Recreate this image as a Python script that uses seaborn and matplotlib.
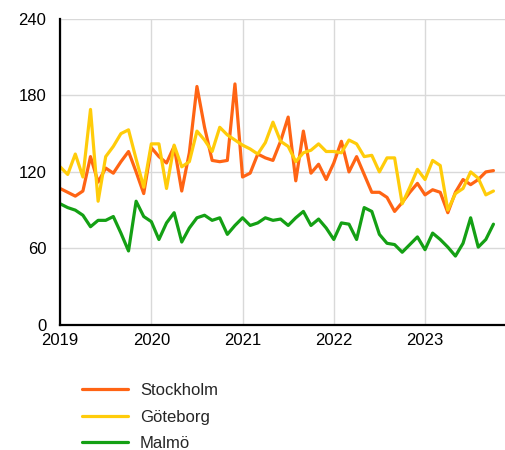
import numpy as np
import pandas as pd
import matplotlib
matplotlib.use("Agg")
import matplotlib.pyplot as plt
import seaborn as sns

# Monthly index values, Jan 2019 - Oct 2023
start_year = 2019
stockholm = [107, 104, 101, 105, 132, 112, 123, 119, 128, 136, 120, 103,
             139, 132, 127, 140, 105, 135, 187, 155, 129, 128, 129, 189,
             116, 119, 134, 131, 129, 144, 163, 113, 152, 119, 126, 114,
             127, 144, 120, 132, 118, 104, 104, 100, 89, 96, 104, 111,
             102, 106, 104, 88, 104, 114, 110, 114, 120, 121]
goteborg = [124, 118, 134, 116, 169, 97, 132, 140, 150, 153, 130, 108,
            142, 142, 107, 141, 124, 128, 152, 145, 136, 155, 149, 145,
            141, 138, 134, 143, 159, 144, 140, 128, 135, 137, 142, 136,
            136, 135, 145, 142, 132, 133, 120, 131, 131, 95, 108, 122,
            114, 129, 125, 90, 103, 107, 120, 115, 102, 105]
malmo = [95, 92, 90, 86, 77, 82, 82, 85, 72, 58, 97, 85,
         81, 67, 80, 88, 65, 76, 84, 86, 82, 84, 71, 78,
         84, 78, 80, 84, 82, 83, 78, 84, 89, 78, 83, 76,
         67, 80, 79, 67, 92, 89, 71, 64, 63, 57, 63, 69,
         59, 72, 67, 61, 54, 64, 84, 61, 67, 79]
city_names = ["Stockholm", "Göteborg", "Malmö"]
city_colors = ["#FF6414", "#FFCC0A", "#14A014"]
year_ticks = [2019, 2020, 2021, 2022, 2023]
value_ticks = [0, 60, 120, 180, 240]

months = np.arange(len(stockholm))
t = start_year + months / 12.0
df = pd.concat([
    pd.DataFrame({"t": t, "value": vals, "city": name})
    for name, vals in zip(city_names, [stockholm, goteborg, malmo])
])

sns.set_theme(style="white")
plt.rcParams["font.family"] = ["Liberation Sans", "DejaVu Sans"]

fig = plt.figure(figsize=(5.05, 4.5), dpi=100)
ax = fig.add_axes([0.119, 0.278, 0.881, 0.680])

sns.lineplot(data=df, x="t", y="value", hue="city", hue_order=city_names,
             palette=city_colors, linewidth=2.3, ax=ax, legend=True)

ax.set_xlim(2019, 2019 + 445 / 91.25)
ax.set_ylim(0, 240)
ax.set_xticks(year_ticks)
ax.set_xticklabels([str(y) for y in year_ticks])
ax.set_yticks(value_ticks)
ax.set_xlabel("")
ax.set_ylabel("")
ax.grid(True, color="#d9d9d9", linewidth=1.0)
ax.set_axisbelow(True)
for side in ["top", "right"]:
    ax.spines[side].set_visible(False)
for side in ["left", "bottom"]:
    ax.spines[side].set_color("black")
    ax.spines[side].set_linewidth(1.6)
ax.tick_params(axis="both", length=0, labelsize=12, colors="black")
ax.tick_params(axis="y", pad=10)
ax.tick_params(axis="x", pad=6)

handles, labels = ax.get_legend_handles_labels()
ax.legend(handles, labels, loc="upper left", bbox_to_anchor=(0.15, 0.164),
          bbox_transform=fig.transFigure, frameon=False, fontsize=12,
          handlelength=2.75, handletextpad=0.7, labelspacing=0.7,
          borderaxespad=0)

fig.savefig("out.png", dpi=100)
